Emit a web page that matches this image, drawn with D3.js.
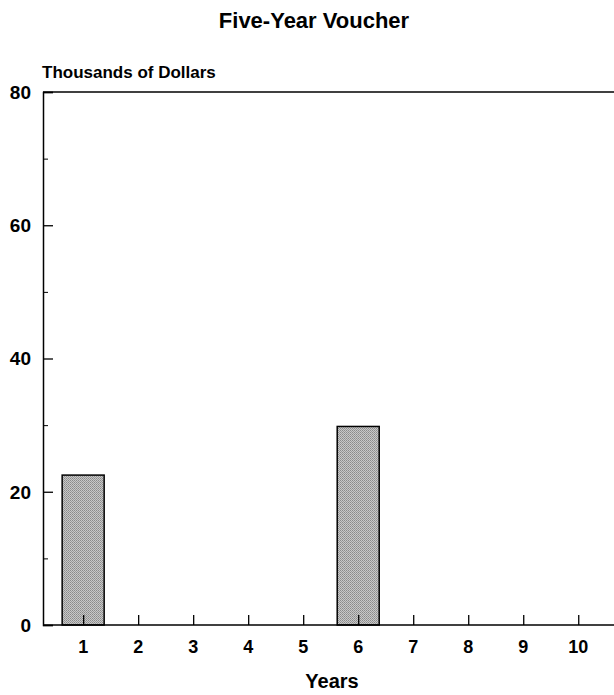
<!DOCTYPE html>
<html>
<head>
<meta charset="utf-8">
<script src="https://cdn.jsdelivr.net/npm/d3@7"></script>
<style>
  body { margin: 0; background: #fff; }
  text { font-family: "Liberation Sans", Arial, sans-serif; font-weight: bold; fill: #000; }
</style>
</head>
<body>
<svg id="chart" width="614" height="695"></svg>
<script>
const years = [1, 2, 3, 4, 5, 6, 7, 8, 9, 10];
const values = [22.5, 0, 0, 0, 0, 29.8, 0, 0, 0, 0];
const majorTicks = [0, 20, 40, 60, 80];
const minorTicks = [10, 30, 50, 70];

const svg = d3.select("#chart");
const plotLeft = 43, plotRight = 614, plotTop = 92, plotBottom = 625;

let xScale = d3.scaleLinear().domain([0.27, 10.65]).range([plotLeft, plotRight]);
let yScale = d3.scaleLinear().domain([0, 80]).range([plotBottom, plotTop]);

// halftone-ish fill for bars
const defs = svg.append("defs");
const pat = defs.append("pattern")
  .attr("id", "dots")
  .attr("width", 2).attr("height", 2)
  .attr("patternUnits", "userSpaceOnUse");
pat.append("rect").attr("width", 2).attr("height", 2).attr("fill", "#c8c8c8");
pat.append("rect").attr("width", 1).attr("height", 1).attr("fill", "#8a8a8a");
pat.append("rect").attr("x", 1).attr("y", 1).attr("width", 1).attr("height", 1).attr("fill", "#9a9a9a");

svg.append("text")
  .attr("x", 314).attr("y", 28)
  .attr("text-anchor", "middle")
  .style("font-size", "22px")
  .text("Five-Year Voucher");

svg.append("text")
  .attr("x", 42).attr("y", 78)
  .style("font-size", "17px")
  .text("Thousands of Dollars");

// bars
const barW = 42;
svg.selectAll("rect.bar")
  .data(years.map((y, i) => ({ year: y, value: values[i] })).filter(d => d.value > 0))
  .join("rect")
  .attr("class", "bar")
  .attr("x", d => xScale(d.year) - barW / 2)
  .attr("y", d => yScale(d.value))
  .attr("width", barW)
  .attr("height", d => yScale(0) - yScale(d.value))
  .attr("fill", "url(#dots)")
  .attr("stroke", "#000")
  .attr("stroke-width", 1.5);

// left axis
svg.append("g")
  .attr("transform", `translate(${plotLeft},0)`)
  .call(d3.axisRight(yScale).tickValues(majorTicks).tickSize(10).tickFormat(""))
  .call(g => g.select(".domain").attr("stroke-width", 1.5))
  .call(g => g.selectAll(".tick line").attr("stroke-width", 1.3));

svg.append("g")
  .attr("transform", `translate(${plotLeft},0)`)
  .call(d3.axisRight(yScale).tickValues(minorTicks).tickSize(5).tickFormat(""))
  .call(g => g.select(".domain").remove());

svg.selectAll("text.ylab")
  .data(majorTicks)
  .join("text")
  .attr("class", "ylab")
  .attr("x", 31)
  .attr("y", d => yScale(d))
  .attr("dy", "0.36em")
  .attr("text-anchor", "end")
  .style("font-size", "19px")
  .text(d => d);

// top frame line
svg.append("line")
  .attr("x1", plotLeft).attr("x2", plotRight)
  .attr("y1", plotTop).attr("y2", plotTop)
  .attr("stroke", "#000").attr("stroke-width", 1.5);

// bottom axis
svg.append("g")
  .attr("transform", `translate(0,${plotBottom})`)
  .call(d3.axisTop(xScale).tickValues(years).tickSize(10).tickFormat(""))
  .call(g => g.select(".domain").attr("d", `M${plotLeft},0H${plotRight}`).attr("stroke-width", 1.5))
  .call(g => g.selectAll(".tick line").attr("stroke-width", 1.3));

svg.selectAll("text.xlab")
  .data(years)
  .join("text")
  .attr("class", "xlab")
  .attr("x", d => xScale(d))
  .attr("y", 653)
  .attr("text-anchor", "middle")
  .style("font-size", "18px")
  .text(d => d);

svg.append("text")
  .attr("x", 332).attr("y", 688)
  .attr("text-anchor", "middle")
  .style("font-size", "20px")
  .text("Years");
</script>
</body>
</html>
